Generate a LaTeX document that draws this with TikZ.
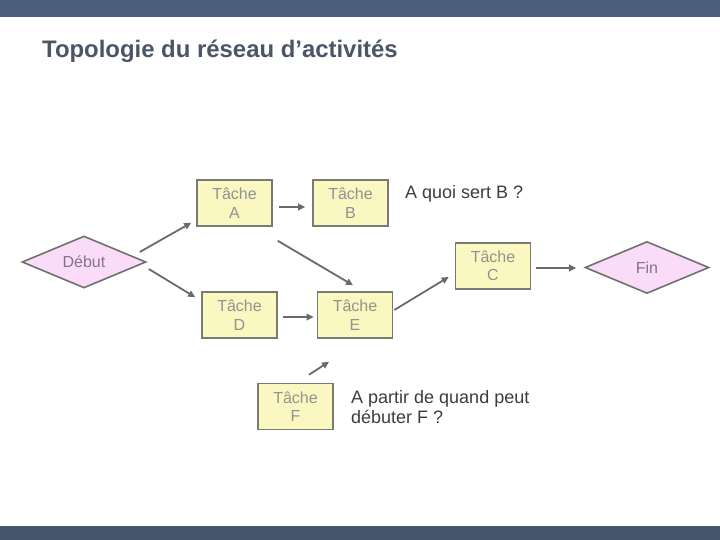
\documentclass[tikz,border=0pt]{standalone}
\usepackage{fontspec}
\setmainfont{Liberation Sans}
\usetikzlibrary{shapes.geometric,arrows.meta}
\definecolor{barblue}{HTML}{4A5F7C}
\definecolor{barblue2}{HTML}{44546A}
\definecolor{titlecol}{HTML}{4A5568}
\definecolor{boxfill}{HTML}{FBF7C0}
\definecolor{boxdraw}{HTML}{7A7A70}
\definecolor{boxtext}{HTML}{929292}
\definecolor{diafill}{HTML}{FADCF8}
\definecolor{diadraw}{HTML}{707070}
\definecolor{diatext}{HTML}{857585}
\definecolor{arrcol}{HTML}{6A6A6A}
\definecolor{qtext}{HTML}{3C3C3C}
\tikzset{
  task/.style={draw=boxdraw, fill=boxfill, line width=1.6pt, minimum width=75pt, minimum height=46pt,
    inner sep=0pt, align=center, text=boxtext, font=\fontsize{16}{18.5}\selectfont},
  milestone/.style={diamond, draw=diadraw, fill=diafill, line width=1.6pt, aspect=2.4, inner sep=0pt,
    minimum width=124pt, minimum height=52pt, text=diatext, font=\fontsize{16}{18.5}\selectfont},
  arr/.style={draw=arrcol, line width=1.8pt, -{Triangle[length=7pt,width=6.5pt]}},
  question/.style={anchor=north west, inner sep=0pt, align=left, text=qtext, font=\fontsize{18}{20.5}\selectfont}
}
\begin{document}
\begin{tikzpicture}[x=1pt,y=-1pt]
\useasboundingbox (0,0) rectangle (720,540);
\fill[barblue] (0,0) rectangle (720,17);
\fill[barblue2] (0,526) rectangle (720,540);
\node[anchor=base west, inner sep=0pt, text=titlecol, font=\fontsize{23.9}{28}\selectfont\bfseries] (title) at (42,58) {Topologie du réseau d’activités};

\node[milestone] (debut) at (84,262) {Début};
\node[milestone] (fin) at (647,267.5) {Fin};
\node[task] (A) at (234.5,203) {Tâche\\A};
\node[task] (B) at (350.5,203) {Tâche\\B};
\node[task] (C) at (493,266) {Tâche\\C};
\node[task] (D) at (239.5,315) {Tâche\\D};
\node[task] (E) at (355,315) {Tâche\\E};
\node[task] (F) at (295.5,406.5) {Tâche\\F};

\node[question] (q1) at (405,185.5) {A quoi sert B ?};
\node[question] (q2) at (351,390) {A partir de quand peut\\débuter F ?};

\draw[arr] ([xshift=-7pt,yshift=10pt]debut.east) -- ([xshift=-5pt,yshift=4pt]A.south west);
\draw[arr] ([xshift=2pt,yshift=-7pt]debut.east) -- ([xshift=-6pt,yshift=-6pt]D.north west);
\draw[arr] ([xshift=6pt,yshift=-4pt]A.east) -- ([xshift=-7pt,yshift=-4pt]B.west);
\draw[arr] ([xshift=5pt,yshift=-14pt]A.south east) -- ([xshift=-2pt,yshift=6pt]E.north);
\draw[arr] ([xshift=5pt,yshift=-2pt]D.east) -- ([xshift=-3pt,yshift=-2pt]E.west);
\draw[arr] ([xshift=1pt,yshift=5pt]E.east) -- ([xshift=-6pt,yshift=-11pt]C.west);
\draw[arr] ([xshift=5pt,yshift=-2pt]C.east) -- ([xshift=-8pt,yshift=-0.5pt]fin.west);
\draw[arr] ([xshift=13.5pt,yshift=8pt]F.north) -- ([xshift=-26pt,yshift=-23pt]E.south);
\end{tikzpicture}
\end{document}
